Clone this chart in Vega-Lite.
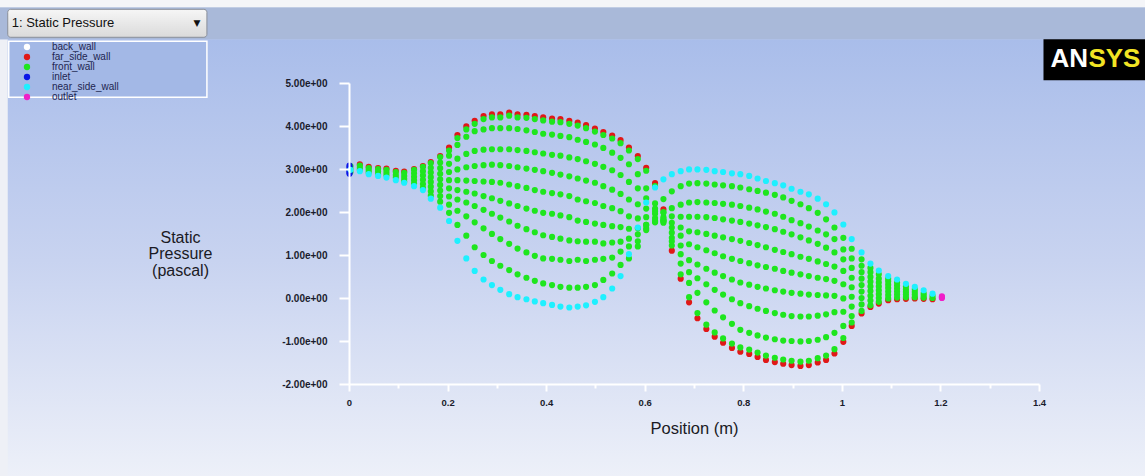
{
"$schema": "https://vega.github.io/schema/vega-lite/v6.json",
"width": 690, "height": 301,
"autosize": {"type": "none"},
"padding": {"left": 349, "top": 83, "right": 106, "bottom": 92},
"background": "#c8d3ef",
"config": {"view": {"stroke": null}, "font": "Liberation Sans",
 "legend": {"orient": "none", "legendX": -340, "legendY": -41, "padding": 0, "rowPadding": 0, "symbolOffset": 13, "labelOffset": 20, "labelFontSize": 10, "labelFont": "Liberation Sans", "labelColor": "#1d2550", "symbolSize": 40, "symbolType": "circle", "symbolStrokeWidth": 0}},
"datasets": {
"one": [{}],
"back_wall": [{"x":0.307,"p":2.68},{"x":0.499,"p":2.21},{"x":0.794,"p":1.33}],
"inlet": [{"x":0.001,"p":3.08},{"x":0.001,"p":3.04},{"x":0.001,"p":3.0},{"x":0.001,"p":2.96},{"x":0.001,"p":2.92},{"x":0.001,"p":2.89}],
"outlet": [{"x":1.203,"p":0.0},{"x":1.203,"p":0.02},{"x":1.203,"p":0.04}],
"far_side_wall": [
{"x":0.022,"p":3.11},{"x":0.04,"p":3.05},{"x":0.059,"p":3.02},{"x":0.076,"p":3.01},{"x":0.095,"p":2.96},{"x":0.112,"p":2.94},{"x":0.132,"p":3.0},{"x":0.15,"p":3.07},{"x":0.166,"p":3.16},{"x":0.185,"p":3.3},
{"x":0.203,"p":3.5},{"x":0.22,"p":3.79},{"x":0.238,"p":3.99},{"x":0.255,"p":4.12},{"x":0.273,"p":4.23},{"x":0.29,"p":4.27},{"x":0.307,"p":4.27},{"x":0.325,"p":4.31},{"x":0.342,"p":4.27},{"x":0.36,"p":4.26},{"x":0.377,"p":4.23},{"x":0.394,"p":4.2},{"x":0.412,"p":4.17},{"x":0.429,"p":4.16},{"x":0.447,"p":4.12},{"x":0.464,"p":4.08},{"x":0.481,"p":4.02},{"x":0.499,"p":3.94},{"x":0.516,"p":3.86},{"x":0.534,"p":3.78},{"x":0.551,"p":3.67},{"x":0.568,"p":3.5},{"x":0.586,"p":3.3},{"x":0.603,"p":3.03},{"x":0.621,"p":2.67},{"x":0.638,"p":2.06},{"x":0.655,"p":1.1},{"x":0.673,"p":0.45},{"x":0.69,"p":-0.1},{"x":0.707,"p":-0.47},{"x":0.725,"p":-0.72},{"x":0.742,"p":-0.9},{"x":0.759,"p":-1.04},{"x":0.777,"p":-1.16},{"x":0.794,"p":-1.25},{"x":0.812,"p":-1.3},{"x":0.829,"p":-1.37},{"x":0.846,"p":-1.44},{"x":0.864,"p":-1.49},{"x":0.881,"p":-1.53},{"x":0.898,"p":-1.56},{"x":0.916,"p":-1.58},{"x":0.933,"p":-1.56},{"x":0.951,"p":-1.5},{"x":0.968,"p":-1.44},{"x":0.985,"p":-1.29},{"x":1.003,"p":-1.02},{"x":1.02,"p":-0.65},
{"x":1.04,"p":-0.36},{"x":1.058,"p":-0.21},{"x":1.075,"p":-0.13},{"x":1.094,"p":-0.05},{"x":1.112,"p":-0.03},{"x":1.13,"p":-0.02},{"x":1.148,"p":-0.01},{"x":1.166,"p":-0.02},{"x":1.184,"p":-0.03}],
"near_side_wall": [
{"x":0.003,"p":2.98},{"x":0.022,"p":2.95},{"x":0.04,"p":2.88},{"x":0.059,"p":2.84},{"x":0.076,"p":2.8},{"x":0.095,"p":2.74},{"x":0.112,"p":2.68},{"x":0.132,"p":2.6},{"x":0.15,"p":2.51},{"x":0.166,"p":2.31},{"x":0.185,"p":2.1},
{"x":0.203,"p":1.79},{"x":0.22,"p":1.33},{"x":0.238,"p":0.92},{"x":0.255,"p":0.63},{"x":0.273,"p":0.43},{"x":0.29,"p":0.3},{"x":0.307,"p":0.19},{"x":0.325,"p":0.09},{"x":0.342,"p":0.02},{"x":0.36,"p":-0.03},{"x":0.377,"p":-0.08},{"x":0.394,"p":-0.12},{"x":0.412,"p":-0.16},{"x":0.429,"p":-0.2},{"x":0.447,"p":-0.22},{"x":0.464,"p":-0.2},{"x":0.481,"p":-0.17},{"x":0.499,"p":-0.09},{"x":0.516,"p":0.02},{"x":0.534,"p":0.22},{"x":0.551,"p":0.51},{"x":0.568,"p":1.02},{"x":0.586,"p":1.64},{"x":0.603,"p":2.22},{"x":0.621,"p":2.57},{"x":0.638,"p":2.76},{"x":0.655,"p":2.88},{"x":0.673,"p":2.95},{"x":0.69,"p":2.99},{"x":0.707,"p":2.99},{"x":0.725,"p":2.98},{"x":0.742,"p":2.95},{"x":0.759,"p":2.93},{"x":0.777,"p":2.9},{"x":0.794,"p":2.88},{"x":0.812,"p":2.84},{"x":0.829,"p":2.78},{"x":0.846,"p":2.72},{"x":0.864,"p":2.67},{"x":0.881,"p":2.62},{"x":0.898,"p":2.54},{"x":0.916,"p":2.47},{"x":0.933,"p":2.41},{"x":0.951,"p":2.31},{"x":0.968,"p":2.18},{"x":0.985,"p":1.99},{"x":1.003,"p":1.71},{"x":1.02,"p":1.37},
{"x":1.04,"p":1.06},{"x":1.058,"p":0.8},{"x":1.075,"p":0.64},{"x":1.094,"p":0.51},{"x":1.112,"p":0.43},{"x":1.13,"p":0.33},{"x":1.148,"p":0.26},{"x":1.166,"p":0.18},{"x":1.184,"p":0.1}],
"front_wall": [
{"x":0.003,"p":3.07},{"x":0.003,"p":3.0},{"x":0.003,"p":2.93},
{"x":0.022,"p":3.08},{"x":0.022,"p":3.03},{"x":0.022,"p":2.98},
{"x":0.04,"p":3.02},{"x":0.04,"p":2.97},{"x":0.04,"p":2.92},
{"x":0.059,"p":3.0},{"x":0.059,"p":2.94},{"x":0.059,"p":2.88},
{"x":0.076,"p":2.98},{"x":0.076,"p":2.92},{"x":0.076,"p":2.86},
{"x":0.095,"p":2.93},{"x":0.095,"p":2.86},{"x":0.095,"p":2.8},
{"x":0.112,"p":2.91},{"x":0.112,"p":2.84},{"x":0.112,"p":2.77},{"x":0.112,"p":2.71},
{"x":0.132,"p":2.98},{"x":0.132,"p":2.9},{"x":0.132,"p":2.82},{"x":0.132,"p":2.74},{"x":0.132,"p":2.66},
{"x":0.15,"p":3.05},{"x":0.15,"p":2.95},{"x":0.15,"p":2.85},{"x":0.15,"p":2.75},{"x":0.15,"p":2.65},{"x":0.15,"p":2.56},
{"x":0.166,"p":3.14},{"x":0.166,"p":3.03},{"x":0.166,"p":2.92},{"x":0.166,"p":2.81},{"x":0.166,"p":2.7},{"x":0.166,"p":2.59},{"x":0.166,"p":2.48},{"x":0.166,"p":2.38},
{"x":0.185,"p":3.28},{"x":0.185,"p":3.15},{"x":0.185,"p":3.02},{"x":0.185,"p":2.89},{"x":0.185,"p":2.76},{"x":0.185,"p":2.63},{"x":0.185,"p":2.5},{"x":0.185,"p":2.37},{"x":0.185,"p":2.24},
{"x":0.203,"p":3.43},{"x":0.22,"p":3.72},{"x":0.238,"p":3.92},{"x":0.255,"p":4.05},{"x":0.273,"p":4.16},{"x":0.29,"p":4.2},{"x":0.307,"p":4.2},{"x":0.325,"p":4.24},{"x":0.342,"p":4.2},{"x":0.36,"p":4.19},{"x":0.377,"p":4.16},{"x":0.394,"p":4.13},{"x":0.412,"p":4.1},{"x":0.429,"p":4.09},{"x":0.447,"p":4.05},{"x":0.464,"p":4.01},{"x":0.481,"p":3.95},{"x":0.499,"p":3.87},{"x":0.516,"p":3.79},{"x":0.534,"p":3.71},{"x":0.551,"p":3.6},{"x":0.568,"p":3.43},{"x":0.586,"p":3.23},{"x":0.603,"p":2.96},{"x":0.621,"p":2.6},{"x":0.638,"p":2.0},{"x":0.655,"p":1.22},{"x":0.673,"p":0.55},{"x":0.69,"p":0.02},{"x":0.707,"p":-0.35},{"x":0.725,"p":-0.62},{"x":0.742,"p":-0.8},{"x":0.759,"p":-0.94},{"x":0.777,"p":-1.06},{"x":0.794,"p":-1.15},{"x":0.812,"p":-1.2},{"x":0.829,"p":-1.27},{"x":0.846,"p":-1.34},{"x":0.864,"p":-1.39},{"x":0.881,"p":-1.43},{"x":0.898,"p":-1.46},{"x":0.916,"p":-1.48},{"x":0.933,"p":-1.46},{"x":0.951,"p":-1.4},{"x":0.968,"p":-1.34},{"x":0.985,"p":-1.19},{"x":1.003,"p":-0.93},{"x":1.02,"p":-0.57},
{"x":0.203,"p":3.31},{"x":0.22,"p":3.56},{"x":0.238,"p":3.75},{"x":0.255,"p":3.88},{"x":0.273,"p":3.92},{"x":0.29,"p":3.95},{"x":0.307,"p":3.95},{"x":0.325,"p":3.95},{"x":0.342,"p":3.93},{"x":0.36,"p":3.9},{"x":0.377,"p":3.86},{"x":0.394,"p":3.82},{"x":0.412,"p":3.8},{"x":0.429,"p":3.77},{"x":0.447,"p":3.74},{"x":0.464,"p":3.68},{"x":0.481,"p":3.63},{"x":0.499,"p":3.57},{"x":0.516,"p":3.49},{"x":0.534,"p":3.38},{"x":0.551,"p":3.26},{"x":0.568,"p":3.11},{"x":0.586,"p":2.88},{"x":0.603,"p":2.55},{"x":0.621,"p":2.2},{"x":0.638,"p":1.8},{"x":0.655,"p":1.32},{"x":0.673,"p":0.8},{"x":0.69,"p":0.35},{"x":0.707,"p":0.12},{"x":0.725,"p":-0.1},{"x":0.742,"p":-0.29},{"x":0.759,"p":-0.45},{"x":0.777,"p":-0.6},{"x":0.794,"p":-0.74},{"x":0.812,"p":-0.81},{"x":0.829,"p":-0.87},{"x":0.846,"p":-0.92},{"x":0.864,"p":-0.96},{"x":0.881,"p":-0.99},{"x":0.898,"p":-1.0},{"x":0.916,"p":-1.01},{"x":0.933,"p":-1.0},{"x":0.951,"p":-0.97},{"x":0.968,"p":-0.91},{"x":0.985,"p":-0.81},{"x":1.003,"p":-0.65},{"x":1.02,"p":-0.42},
{"x":0.203,"p":3.12},{"x":0.22,"p":3.24},{"x":0.238,"p":3.35},{"x":0.255,"p":3.42},{"x":0.273,"p":3.45},{"x":0.29,"p":3.46},{"x":0.307,"p":3.46},{"x":0.325,"p":3.46},{"x":0.342,"p":3.44},{"x":0.36,"p":3.42},{"x":0.377,"p":3.39},{"x":0.394,"p":3.36},{"x":0.412,"p":3.33},{"x":0.429,"p":3.31},{"x":0.447,"p":3.27},{"x":0.464,"p":3.23},{"x":0.481,"p":3.18},{"x":0.499,"p":3.12},{"x":0.516,"p":3.05},{"x":0.534,"p":2.97},{"x":0.551,"p":2.86},{"x":0.568,"p":2.7},{"x":0.586,"p":2.55},{"x":0.603,"p":2.32},{"x":0.621,"p":2.08},{"x":0.638,"p":1.75},{"x":0.655,"p":1.4},{"x":0.673,"p":1.02},{"x":0.69,"p":0.6},{"x":0.707,"p":0.46},{"x":0.725,"p":0.32},{"x":0.742,"p":0.19},{"x":0.759,"p":0.08},{"x":0.777,"p":-0.03},{"x":0.794,"p":-0.12},{"x":0.812,"p":-0.19},{"x":0.829,"p":-0.25},{"x":0.846,"p":-0.3},{"x":0.864,"p":-0.35},{"x":0.881,"p":-0.39},{"x":0.898,"p":-0.42},{"x":0.916,"p":-0.43},{"x":0.933,"p":-0.43},{"x":0.951,"p":-0.41},{"x":0.968,"p":-0.38},{"x":0.985,"p":-0.33},{"x":1.003,"p":-0.32},{"x":1.02,"p":-0.2},
{"x":0.203,"p":2.93},{"x":0.22,"p":2.99},{"x":0.238,"p":3.04},{"x":0.255,"p":3.07},{"x":0.273,"p":3.09},{"x":0.29,"p":3.1},{"x":0.307,"p":3.09},{"x":0.325,"p":3.07},{"x":0.342,"p":3.04},{"x":0.36,"p":3.01},{"x":0.377,"p":2.98},{"x":0.394,"p":2.95},{"x":0.412,"p":2.91},{"x":0.429,"p":2.87},{"x":0.447,"p":2.83},{"x":0.464,"p":2.78},{"x":0.481,"p":2.73},{"x":0.499,"p":2.68},{"x":0.516,"p":2.6},{"x":0.534,"p":2.52},{"x":0.551,"p":2.42},{"x":0.568,"p":2.29},{"x":0.586,"p":2.18},{"x":0.603,"p":2.08},{"x":0.621,"p":1.96},{"x":0.638,"p":1.78},{"x":0.655,"p":1.52},{"x":0.673,"p":1.22},{"x":0.69,"p":0.88},{"x":0.707,"p":0.78},{"x":0.725,"p":0.68},{"x":0.742,"p":0.59},{"x":0.759,"p":0.51},{"x":0.777,"p":0.43},{"x":0.794,"p":0.36},{"x":0.812,"p":0.31},{"x":0.829,"p":0.26},{"x":0.846,"p":0.22},{"x":0.864,"p":0.18},{"x":0.881,"p":0.15},{"x":0.898,"p":0.12},{"x":0.916,"p":0.1},{"x":0.933,"p":0.08},{"x":0.951,"p":0.07},{"x":0.968,"p":0.06},{"x":0.985,"p":0.05},{"x":1.003,"p":-0.01},{"x":1.02,"p":0.03},
{"x":0.203,"p":2.74},{"x":0.22,"p":2.74},{"x":0.238,"p":2.73},{"x":0.255,"p":2.72},{"x":0.273,"p":2.71},{"x":0.29,"p":2.7},{"x":0.307,"p":2.68},{"x":0.325,"p":2.64},{"x":0.342,"p":2.6},{"x":0.36,"p":2.56},{"x":0.377,"p":2.51},{"x":0.394,"p":2.47},{"x":0.412,"p":2.44},{"x":0.429,"p":2.41},{"x":0.447,"p":2.37},{"x":0.464,"p":2.29},{"x":0.481,"p":2.25},{"x":0.499,"p":2.21},{"x":0.516,"p":2.14},{"x":0.534,"p":2.09},{"x":0.551,"p":2.02},{"x":0.568,"p":1.9},{"x":0.586,"p":1.85},{"x":0.603,"p":1.88},{"x":0.621,"p":1.86},{"x":0.638,"p":1.8},{"x":0.655,"p":1.64},{"x":0.673,"p":1.45},{"x":0.69,"p":1.25},{"x":0.707,"p":1.18},{"x":0.725,"p":1.11},{"x":0.742,"p":1.04},{"x":0.759,"p":0.97},{"x":0.777,"p":0.91},{"x":0.794,"p":0.86},{"x":0.812,"p":0.81},{"x":0.829,"p":0.76},{"x":0.846,"p":0.72},{"x":0.864,"p":0.68},{"x":0.881,"p":0.63},{"x":0.898,"p":0.59},{"x":0.916,"p":0.55},{"x":0.933,"p":0.51},{"x":0.951,"p":0.47},{"x":0.968,"p":0.44},{"x":0.985,"p":0.4},{"x":1.003,"p":0.32},{"x":1.02,"p":0.25},
{"x":0.203,"p":2.55},{"x":0.22,"p":2.51},{"x":0.238,"p":2.47},{"x":0.255,"p":2.43},{"x":0.273,"p":2.37},{"x":0.29,"p":2.32},{"x":0.307,"p":2.26},{"x":0.325,"p":2.2},{"x":0.342,"p":2.14},{"x":0.36,"p":2.08},{"x":0.377,"p":2.03},{"x":0.394,"p":1.98},{"x":0.412,"p":1.96},{"x":0.429,"p":1.92},{"x":0.447,"p":1.88},{"x":0.464,"p":1.8},{"x":0.481,"p":1.77},{"x":0.499,"p":1.73},{"x":0.516,"p":1.7},{"x":0.534,"p":1.67},{"x":0.551,"p":1.65},{"x":0.568,"p":1.61},{"x":0.586,"p":1.62},{"x":0.603,"p":1.7},{"x":0.621,"p":1.78},{"x":0.638,"p":1.84},{"x":0.655,"p":1.75},{"x":0.673,"p":1.64},{"x":0.69,"p":1.55},{"x":0.707,"p":1.53},{"x":0.725,"p":1.49},{"x":0.742,"p":1.45},{"x":0.759,"p":1.41},{"x":0.777,"p":1.37},{"x":0.794,"p":1.33},{"x":0.812,"p":1.28},{"x":0.829,"p":1.23},{"x":0.846,"p":1.18},{"x":0.864,"p":1.12},{"x":0.881,"p":1.07},{"x":0.898,"p":1.02},{"x":0.916,"p":0.96},{"x":0.933,"p":0.91},{"x":0.951,"p":0.85},{"x":0.968,"p":0.79},{"x":0.985,"p":0.73},{"x":1.003,"p":0.63},{"x":1.02,"p":0.47},
{"x":0.203,"p":2.36},{"x":0.22,"p":2.29},{"x":0.238,"p":2.22},{"x":0.255,"p":2.14},{"x":0.273,"p":2.05},{"x":0.29,"p":1.96},{"x":0.307,"p":1.87},{"x":0.325,"p":1.78},{"x":0.342,"p":1.68},{"x":0.36,"p":1.6},{"x":0.377,"p":1.53},{"x":0.394,"p":1.46},{"x":0.412,"p":1.42},{"x":0.429,"p":1.38},{"x":0.447,"p":1.34},{"x":0.464,"p":1.32},{"x":0.481,"p":1.31},{"x":0.499,"p":1.31},{"x":0.516,"p":1.27},{"x":0.534,"p":1.29},{"x":0.551,"p":1.31},{"x":0.568,"p":1.38},{"x":0.586,"p":1.48},{"x":0.603,"p":1.62},{"x":0.621,"p":1.76},{"x":0.638,"p":1.88},{"x":0.655,"p":1.9},{"x":0.673,"p":1.89},{"x":0.69,"p":1.89},{"x":0.707,"p":1.89},{"x":0.725,"p":1.88},{"x":0.742,"p":1.86},{"x":0.759,"p":1.83},{"x":0.777,"p":1.8},{"x":0.794,"p":1.77},{"x":0.812,"p":1.73},{"x":0.829,"p":1.69},{"x":0.846,"p":1.65},{"x":0.864,"p":1.6},{"x":0.881,"p":1.54},{"x":0.898,"p":1.48},{"x":0.916,"p":1.41},{"x":0.933,"p":1.34},{"x":0.951,"p":1.26},{"x":0.968,"p":1.17},{"x":0.985,"p":1.06},{"x":1.003,"p":0.9},{"x":1.02,"p":0.7},
{"x":0.203,"p":2.17},{"x":0.22,"p":2.03},{"x":0.238,"p":1.9},{"x":0.255,"p":1.76},{"x":0.273,"p":1.62},{"x":0.29,"p":1.49},{"x":0.307,"p":1.37},{"x":0.325,"p":1.26},{"x":0.342,"p":1.15},{"x":0.36,"p":1.06},{"x":0.377,"p":0.98},{"x":0.394,"p":0.92},{"x":0.412,"p":0.91},{"x":0.429,"p":0.89},{"x":0.447,"p":0.86},{"x":0.464,"p":0.89},{"x":0.481,"p":0.86},{"x":0.499,"p":0.89},{"x":0.516,"p":0.91},{"x":0.534,"p":0.94},{"x":0.551,"p":1.08},{"x":0.568,"p":1.2},{"x":0.586,"p":1.32},{"x":0.603,"p":1.58},{"x":0.621,"p":1.8},{"x":0.638,"p":1.98},{"x":0.655,"p":2.09},{"x":0.673,"p":2.17},{"x":0.69,"p":2.22},{"x":0.707,"p":2.23},{"x":0.725,"p":2.22},{"x":0.742,"p":2.21},{"x":0.759,"p":2.19},{"x":0.777,"p":2.17},{"x":0.794,"p":2.14},{"x":0.812,"p":2.1},{"x":0.829,"p":2.06},{"x":0.846,"p":2.01},{"x":0.864,"p":1.96},{"x":0.881,"p":1.89},{"x":0.898,"p":1.81},{"x":0.916,"p":1.74},{"x":0.933,"p":1.66},{"x":0.951,"p":1.57},{"x":0.968,"p":1.48},{"x":0.985,"p":1.37},{"x":1.003,"p":1.13},{"x":1.02,"p":0.92},
{"x":0.203,"p":1.98},{"x":0.22,"p":1.7},{"x":0.238,"p":1.45},{"x":0.255,"p":1.18},{"x":0.273,"p":1.0},{"x":0.29,"p":0.86},{"x":0.307,"p":0.75},{"x":0.325,"p":0.65},{"x":0.342,"p":0.55},{"x":0.36,"p":0.47},{"x":0.377,"p":0.4},{"x":0.394,"p":0.34},{"x":0.412,"p":0.3},{"x":0.429,"p":0.26},{"x":0.447,"p":0.24},{"x":0.464,"p":0.24},{"x":0.481,"p":0.26},{"x":0.499,"p":0.3},{"x":0.516,"p":0.42},{"x":0.534,"p":0.57},{"x":0.551,"p":0.77},{"x":0.568,"p":0.92},{"x":0.586,"p":1.2},{"x":0.603,"p":1.7},{"x":0.621,"p":2.02},{"x":0.638,"p":2.3},{"x":0.655,"p":2.48},{"x":0.673,"p":2.6},{"x":0.69,"p":2.66},{"x":0.707,"p":2.67},{"x":0.725,"p":2.66},{"x":0.742,"p":2.64},{"x":0.759,"p":2.62},{"x":0.777,"p":2.6},{"x":0.794,"p":2.57},{"x":0.812,"p":2.53},{"x":0.829,"p":2.49},{"x":0.846,"p":2.45},{"x":0.864,"p":2.4},{"x":0.881,"p":2.34},{"x":0.898,"p":2.26},{"x":0.916,"p":2.18},{"x":0.933,"p":2.09},{"x":0.951,"p":1.98},{"x":0.968,"p":1.83},{"x":0.985,"p":1.64},{"x":1.003,"p":1.4},{"x":1.02,"p":1.145},
{"x":1.04,"p":-0.3},{"x":1.04,"p":-0.15},{"x":1.04,"p":0.0},{"x":1.04,"p":0.15},{"x":1.04,"p":0.3},{"x":1.04,"p":0.45},{"x":1.04,"p":0.6},{"x":1.04,"p":0.75},{"x":1.04,"p":0.9},
{"x":1.058,"p":-0.17},{"x":1.058,"p":-0.06},{"x":1.058,"p":0.05},{"x":1.058,"p":0.16},{"x":1.058,"p":0.27},{"x":1.058,"p":0.38},{"x":1.058,"p":0.49},{"x":1.058,"p":0.6},{"x":1.058,"p":0.7},
{"x":1.075,"p":-0.09},{"x":1.075,"p":0.0},{"x":1.075,"p":0.09},{"x":1.075,"p":0.18},{"x":1.075,"p":0.27},{"x":1.075,"p":0.36},{"x":1.075,"p":0.45},{"x":1.075,"p":0.55},
{"x":1.094,"p":-0.01},{"x":1.094,"p":0.07},{"x":1.094,"p":0.15},{"x":1.094,"p":0.23},{"x":1.094,"p":0.31},{"x":1.094,"p":0.39},{"x":1.094,"p":0.45},
{"x":1.112,"p":0.01},{"x":1.112,"p":0.08},{"x":1.112,"p":0.15},{"x":1.112,"p":0.22},{"x":1.112,"p":0.29},{"x":1.112,"p":0.36},
{"x":1.13,"p":0.02},{"x":1.13,"p":0.08},{"x":1.13,"p":0.14},{"x":1.13,"p":0.2},{"x":1.13,"p":0.27},
{"x":1.148,"p":0.02},{"x":1.148,"p":0.08},{"x":1.148,"p":0.14},{"x":1.148,"p":0.2},
{"x":1.166,"p":0.01},{"x":1.166,"p":0.06},{"x":1.166,"p":0.11},
{"x":1.184,"p":0.0},{"x":1.184,"p":0.05}]
},
"layer": [
{"data": {"name": "one"},
 "mark": {"type": "rect", "color": {"gradient": "linear", "x1": 0, "y1": 0, "x2": 0, "y2": 1, "stops": [{"offset": 0, "color": "#a9bdea"}, {"offset": 0.5, "color": "#c8d3f0"}, {"offset": 1, "color": "#eef1f9"}]}},
 "encoding": {"x": {"datum": -0.75, "type": "quantitative", "scale": {"domain": [0, 1.4], "nice": false, "zero": false}}, "x2": {"datum": 1.65}, "y": {"datum": 6.02, "type": "quantitative", "scale": {"domain": [-2, 5], "nice": false, "zero": false}}, "y2": {"datum": -4.3}}},
{"data": {"name": "one"},
 "mark": {"type": "rect", "color": "#eef0f6"},
 "encoding": {"x": {"datum": -0.75, "type": "quantitative"}, "x2": {"datum": -0.6924}, "y": {"datum": 6.02, "type": "quantitative"}, "y2": {"datum": -4.3}}},
{"data": {"name": "one"},
 "mark": {"type": "rect", "color": "#a9b9d9"},
 "encoding": {"x": {"datum": -0.75, "type": "quantitative"}, "x2": {"datum": 1.65}, "y": {"datum": 6.76, "type": "quantitative"}, "y2": {"datum": 6.02}}},
{"data": {"name": "one"},
 "mark": {"type": "rect", "color": "#f4f5f8"},
 "encoding": {"x": {"datum": -0.75, "type": "quantitative"}, "x2": {"datum": 1.65}, "y": {"datum": 7.2, "type": "quantitative"}, "y2": {"datum": 6.76}}},
{"data": {"name": "one"},
 "mark": {"type": "rect", "cornerRadius": 3, "stroke": "#8a8f99", "strokeWidth": 1, "color": {"gradient": "linear", "x1": 0, "y1": 0, "x2": 0, "y2": 1, "stops": [{"offset": 0, "color": "#f6f6f6"}, {"offset": 1, "color": "#dadada"}]}},
 "encoding": {"x": {"datum": -0.6924, "type": "quantitative"}, "x2": {"datum": -0.2883}, "y": {"datum": 6.714, "type": "quantitative"}, "y2": {"datum": 6.063}}},
{"data": {"name": "one"},
 "mark": {"type": "text", "text": "1: Static Pressure", "align": "left", "baseline": "middle", "fontSize": 13, "font": "Liberation Sans", "color": "#111111"},
 "encoding": {"x": {"datum": -0.6843, "type": "quantitative"}, "y": {"datum": 6.388, "type": "quantitative"}}},
{"data": {"name": "one"},
 "mark": {"type": "text", "text": "▼", "align": "center", "baseline": "middle", "fontSize": 9, "font": "DejaVu Sans", "color": "#111111"},
 "encoding": {"x": {"datum": -0.3086, "type": "quantitative"}, "y": {"datum": 6.388, "type": "quantitative"}}},
{"data": {"name": "one"},
 "mark": {"type": "rect", "color": "#a3b8e6", "stroke": "#ffffff", "strokeWidth": 1.5},
 "encoding": {"x": {"datum": -0.6904, "type": "quantitative"}, "x2": {"datum": -0.2883}, "y": {"datum": 5.97, "type": "quantitative"}, "y2": {"datum": 4.667}}},
{"data": {"name": "one"},
 "mark": {"type": "rect", "color": "#000000"},
 "encoding": {"x": {"datum": 1.4091, "type": "quantitative"}, "x2": {"datum": 1.65}, "y": {"datum": 6.016, "type": "quantitative"}, "y2": {"datum": 5.063}}},
{"data": {"name": "one"},
 "mark": {"type": "text", "text": "AN", "align": "left", "baseline": "alphabetic", "fontSize": 26, "fontWeight": "bold", "font": "Liberation Sans", "color": "#ffffff"},
 "encoding": {"x": {"datum": 1.4233, "type": "quantitative"}, "y": {"datum": 5.365, "type": "quantitative"}}},
{"data": {"name": "one"},
 "mark": {"type": "text", "text": "SYS", "align": "left", "baseline": "alphabetic", "fontSize": 26, "fontWeight": "bold", "font": "Liberation Sans", "color": "#f2e424"},
 "encoding": {"x": {"datum": 1.5003, "type": "quantitative"}, "y": {"datum": 5.365, "type": "quantitative"}}},
{"data": {"name": "back_wall"},
 "mark": {"type": "circle", "size": 38, "opacity": 1},
 "encoding": {
  "x": {"field": "x", "type": "quantitative", "scale": {"domain": [0, 1.4], "nice": false, "zero": false},
   "axis": {"title": "Position (m)", "values": [0, 0.1, 0.2, 0.3, 0.4, 0.5, 0.6, 0.7, 0.8, 0.9, 1, 1.1, 1.2, 1.3, 1.4], "labelExpr": "round(datum.value*10) % 2 == 0 ? format(datum.value, '.1~f') : ''", "tickSize": {"condition": {"test": "round(datum.value*10) % 2 == 0", "value": 7}, "value": 4}, "labelPadding": 6, "labelFontSize": 9.5, "labelFontWeight": "bold", "labelFont": "Liberation Sans", "labelColor": "#1a1c2c", "labelFlush": false, "labelOverlap": false, "titleFontSize": 16.5, "titleFont": "Liberation Sans", "titleFontWeight": "normal", "titleColor": "#1a1a24", "titleY": 49, "titleBaseline": "alphabetic", "domainColor": "#ffffff", "domainWidth": 2, "tickColor": "#ffffff", "tickWidth": 2, "grid": false, "zindex": 1}},
  "y": {"field": "p", "type": "quantitative", "scale": {"domain": [-2, 5], "nice": false, "zero": false},
   "axis": {"title": ["Static", "Pressure", "(pascal)"], "values": [-2, -1.75, -1.5, -1.25, -1, -0.75, -0.5, -0.25, 0, 0.25, 0.5, 0.75, 1, 1.25, 1.5, 1.75, 2, 2.25, 2.5, 2.75, 3, 3.25, 3.5, 3.75, 4, 4.25, 4.5, 4.75, 5], "labelExpr": "datum.value % 1 == 0 ? (datum.value < 0 ? '-' : '') + abs(datum.value) + '.00e+00' : ''", "tickSize": {"condition": {"test": "datum.value % 1 == 0", "value": 10}, "value": 5}, "labelPadding": 12, "labelFontSize": 10, "labelFontWeight": "bold", "labelFont": "Liberation Sans", "labelColor": "#1a1c2c", "labelFlush": false, "labelOverlap": false, "titleAngle": 0, "titleAlign": "center", "titleBaseline": "alphabetic", "titleX": -169, "titleY": 159, "titleLineHeight": 16.5, "titleFontSize": 16, "titleFont": "Liberation Sans", "titleFontWeight": "normal", "titleColor": "#1a1a24", "domainColor": "#ffffff", "domainWidth": 2, "tickColor": "#ffffff", "tickWidth": 2, "grid": false, "zindex": 1}},
  "color": {"datum": "back_wall", "type": "nominal", "scale": {"domain": ["back_wall", "far_side_wall", "front_wall", "inlet", "near_side_wall", "outlet"], "range": ["#ffffff", "#e01818", "#1ee61e", "#0a14e6", "#1ef0ff", "#f01ec8"]}, "legend": {"title": null}}}},
{"data": {"name": "far_side_wall"}, "mark": {"type": "circle", "size": 38, "opacity": 1},
 "encoding": {"x": {"field": "x", "type": "quantitative"}, "y": {"field": "p", "type": "quantitative"}, "color": {"datum": "far_side_wall", "type": "nominal"}}},
{"data": {"name": "front_wall"}, "mark": {"type": "circle", "size": 38, "opacity": 1},
 "encoding": {"x": {"field": "x", "type": "quantitative"}, "y": {"field": "p", "type": "quantitative"}, "color": {"datum": "front_wall", "type": "nominal"}}},
{"data": {"name": "inlet"}, "mark": {"type": "circle", "size": 38, "opacity": 1},
 "encoding": {"x": {"field": "x", "type": "quantitative"}, "y": {"field": "p", "type": "quantitative"}, "color": {"datum": "inlet", "type": "nominal"}}},
{"data": {"name": "near_side_wall"}, "mark": {"type": "circle", "size": 38, "opacity": 1},
 "encoding": {"x": {"field": "x", "type": "quantitative"}, "y": {"field": "p", "type": "quantitative"}, "color": {"datum": "near_side_wall", "type": "nominal"}}},
{"data": {"name": "outlet"}, "mark": {"type": "circle", "size": 38, "opacity": 1},
 "encoding": {"x": {"field": "x", "type": "quantitative"}, "y": {"field": "p", "type": "quantitative"}, "color": {"datum": "outlet", "type": "nominal"}}}
]
}
